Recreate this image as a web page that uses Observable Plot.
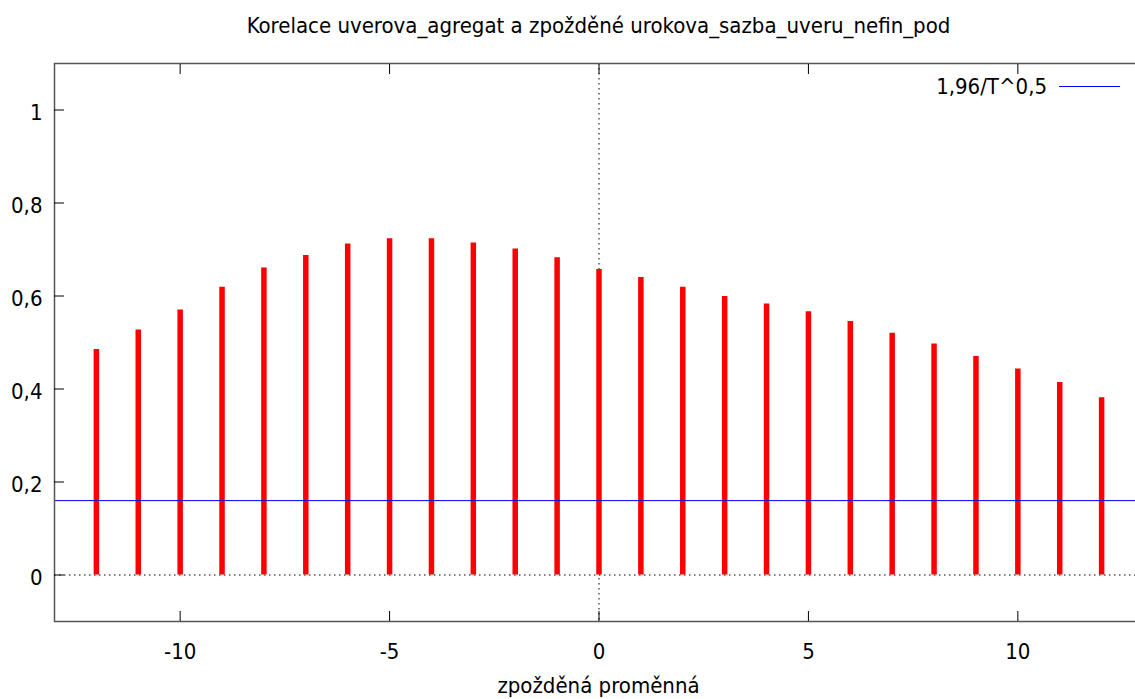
<!DOCTYPE html>
<html>
<head>
<meta charset="utf-8">
<script src="https://cdn.jsdelivr.net/npm/d3@7"></script>
<script src="https://cdn.jsdelivr.net/npm/@observablehq/plot@0.6"></script>
<style>
  html, body { margin: 0; padding: 0; background: #fff; overflow: hidden; }
  #wrap { position: relative; width: 1135px; height: 699px; overflow: hidden; background: #fff;
          font-family: "DejaVu Sans Condensed", "DejaVu Sans", sans-serif; font-stretch: condensed; color: #000; }
  #chart { position: absolute; left: 0; top: 0; width: 1143px; height: 699px; }
  #chart svg { max-width: none !important; }
  .txt { position: absolute; font-size: 22px; line-height: 22px; white-space: nowrap; }
  #title { left: 54px; width: 1089px; text-align: center; top: 15px; }
  #xlabel { left: 54px; width: 1089px; text-align: center; top: 675px; }
  #legtext { right: 88px; top: 76px; text-align: right; }
  #legline { position: absolute; left: 1059px; top: 86px; width: 61px; height: 0; border-top: 1px solid #0000ff; }
</style>
</head>
<body>
<div id="wrap">
  <div id="chart"></div>
  <div id="title" class="txt"></div>
  <div id="xlabel" class="txt"></div>
  <div id="legtext" class="txt"></div>
  <div id="legline"></div>
</div>
<script>
// ---- data ----
const titleText = "Korelace uverova_agregat a zpožděné urokova_sazba_uveru_nefin_pod";
const xLabelText = "zpožděná proměnná";
const legendLabel = "1,96/T^0,5";

const lags = [-12, -11, -10, -9, -8, -7, -6, -5, -4, -3, -2, -1, 0, 1, 2, 3, 4, 5, 6, 7, 8, 9, 10, 11, 12];
const correlations = [0.485, 0.527, 0.570, 0.619, 0.660, 0.687, 0.712, 0.723, 0.723, 0.714, 0.701, 0.682,
                      0.657, 0.640, 0.619, 0.599, 0.583, 0.566, 0.545, 0.520, 0.497, 0.470, 0.443, 0.414, 0.381];
const criticalValue = 0.16;

const xDomain = [-13, 13];
const yDomain = [-0.1, 1.1];
const xTicks = [-10, -5, 0, 5, 10];
const xTickLabels = ["-10", "-5", "0", "5", "10"];
const yTicks = [0, 0.2, 0.4, 0.6, 0.8, 1];
const yTickLabels = ["0", "0,2", "0,4", "0,6", "0,8", "1"];

// ---- build ----
const rows = lags.map((lag, i) => ({lag, r: correlations[i]}));
const dotted = {stroke: "#000", strokeWidth: 1, strokeDasharray: "1.5,3.5"};

const chart = Plot.plot({
  width: 1143,
  height: 699,
  marginLeft: 54,
  marginRight: 0,
  marginTop: 63,
  marginBottom: 78,
  style: {fontFamily: '"DejaVu Sans Condensed", "DejaVu Sans", sans-serif', fontSize: "22px", color: "#000", background: "transparent", fontStretch: "condensed", maxWidth: "none"},
  x: {domain: xDomain, label: null},
  y: {domain: yDomain, label: null},
  marks: [
    Plot.ruleY([0], dotted),
    Plot.ruleX([0], dotted),
    Plot.ruleX(rows, {x: "lag", y1: 0, y2: "r", stroke: "#ff0000", strokeWidth: 5.5}),
    Plot.ruleY([criticalValue], {stroke: "#0000ff", strokeWidth: 1}),
    Plot.frame({stroke: "#555", strokeWidth: 1.5}),
    // inward tick marks
    Plot.axisX(xTicks, {anchor: "bottom", tickSize: -10, fill: "none", stroke: "#000", label: null}),
    Plot.axisX(xTicks, {anchor: "top", tickSize: -10, fill: "none", stroke: "#000", label: null}),
    Plot.axisY(yTicks, {anchor: "left", tickSize: -10, fill: "none", stroke: "#000", label: null}),
    // tick labels
    Plot.axisX(xTicks, {anchor: "bottom", tickSize: 0, tickPadding: 22, label: null,
      tickFormat: d => xTickLabels[xTicks.indexOf(d)]}),
    Plot.axisY(yTicks, {anchor: "left", tickSize: 0, tickPadding: 12, label: null, dy: 2.5,
      tickFormat: d => yTickLabels[yTicks.indexOf(d)]})
  ]
});
chart.style.maxWidth = "none";
document.getElementById("chart").append(chart);
document.getElementById("title").textContent = titleText;
document.getElementById("xlabel").textContent = xLabelText;
document.getElementById("legtext").textContent = legendLabel;
</script>
</body>
</html>
